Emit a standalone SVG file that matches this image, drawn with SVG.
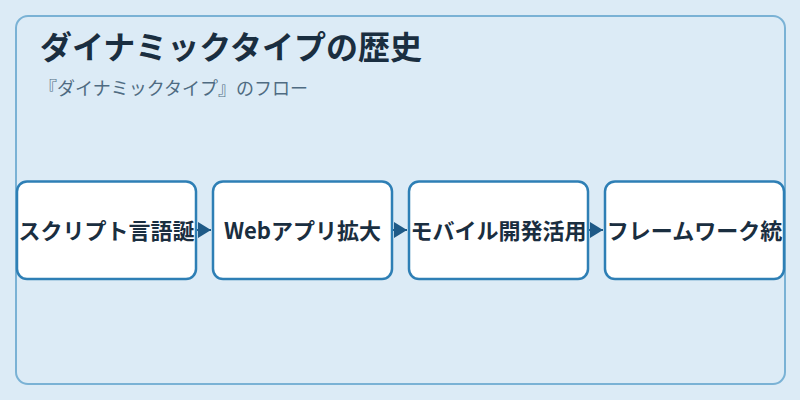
<svg xmlns="http://www.w3.org/2000/svg" width="800" height="400" viewBox="0 0 800 400">
  <style>
    .title { font-family: "Noto Sans CJK JP", "Noto Sans", sans-serif; font-size: 32px; font-weight: bold; fill: #1a2e40; }
    .subtitle { font-family: "Noto Sans CJK JP", "Noto Sans", sans-serif; font-size: 18px; fill: #4f6b82; }
    .node rect { fill: #ffffff; stroke: #2e7fb5; stroke-width: 2.5; }
    .node text { font-family: "Noto Sans CJK JP", "Noto Sans", sans-serif; font-size: 22px; font-weight: bold; fill: #1a2e40; text-anchor: middle; }
    .conn { stroke: #1f5a87; stroke-width: 2; fill: none; }
  </style>
  <defs>
    <marker id="arrow" viewBox="0 0 10 10" refX="10" refY="5" markerWidth="13" markerHeight="16" markerUnits="userSpaceOnUse" orient="auto" preserveAspectRatio="none">
      <path d="M0,0 L10,5 L0,10 z" fill="#1f5a87"/>
    </marker>
  </defs>
  <rect x="0" y="0" width="800" height="400" fill="#dcebf6"/>
  <rect id="frame" x="16" y="16" width="769" height="368" rx="12" ry="12" fill="#dcebf6" stroke="#7ab2d5" stroke-width="2"/>
  <text class="title" x="40" y="59">ダイナミックタイプの歴史</text>
  <text class="subtitle" x="39" y="95">『ダイナミックタイプ』のフロー</text>

  <g id="connectors">
    <path class="conn" d="M197,230 L211,230" marker-end="url(#arrow)"/>
    <path class="conn" d="M393,230 L407,230" marker-end="url(#arrow)"/>
    <path class="conn" d="M589,230 L603,230" marker-end="url(#arrow)"/>
  </g>

  <g id="node1" class="node">
    <rect x="17" y="181.5" width="179" height="97.5" rx="10" ry="10"/>
    <text x="106.5" y="238.5">スクリプト言語誕</text>
  </g>
  <g id="node2" class="node">
    <rect x="213" y="181.5" width="179" height="97.5" rx="10" ry="10"/>
    <text x="302.5" y="238.5">Webアプリ拡大</text>
  </g>
  <g id="node3" class="node">
    <rect x="409" y="181.5" width="179" height="97.5" rx="10" ry="10"/>
    <text x="498.5" y="238.5">モバイル開発活用</text>
  </g>
  <g id="node4" class="node">
    <rect x="605" y="181.5" width="179" height="97.5" rx="10" ry="10"/>
    <text x="694.5" y="238.5">フレームワーク統</text>
  </g>
</svg>
